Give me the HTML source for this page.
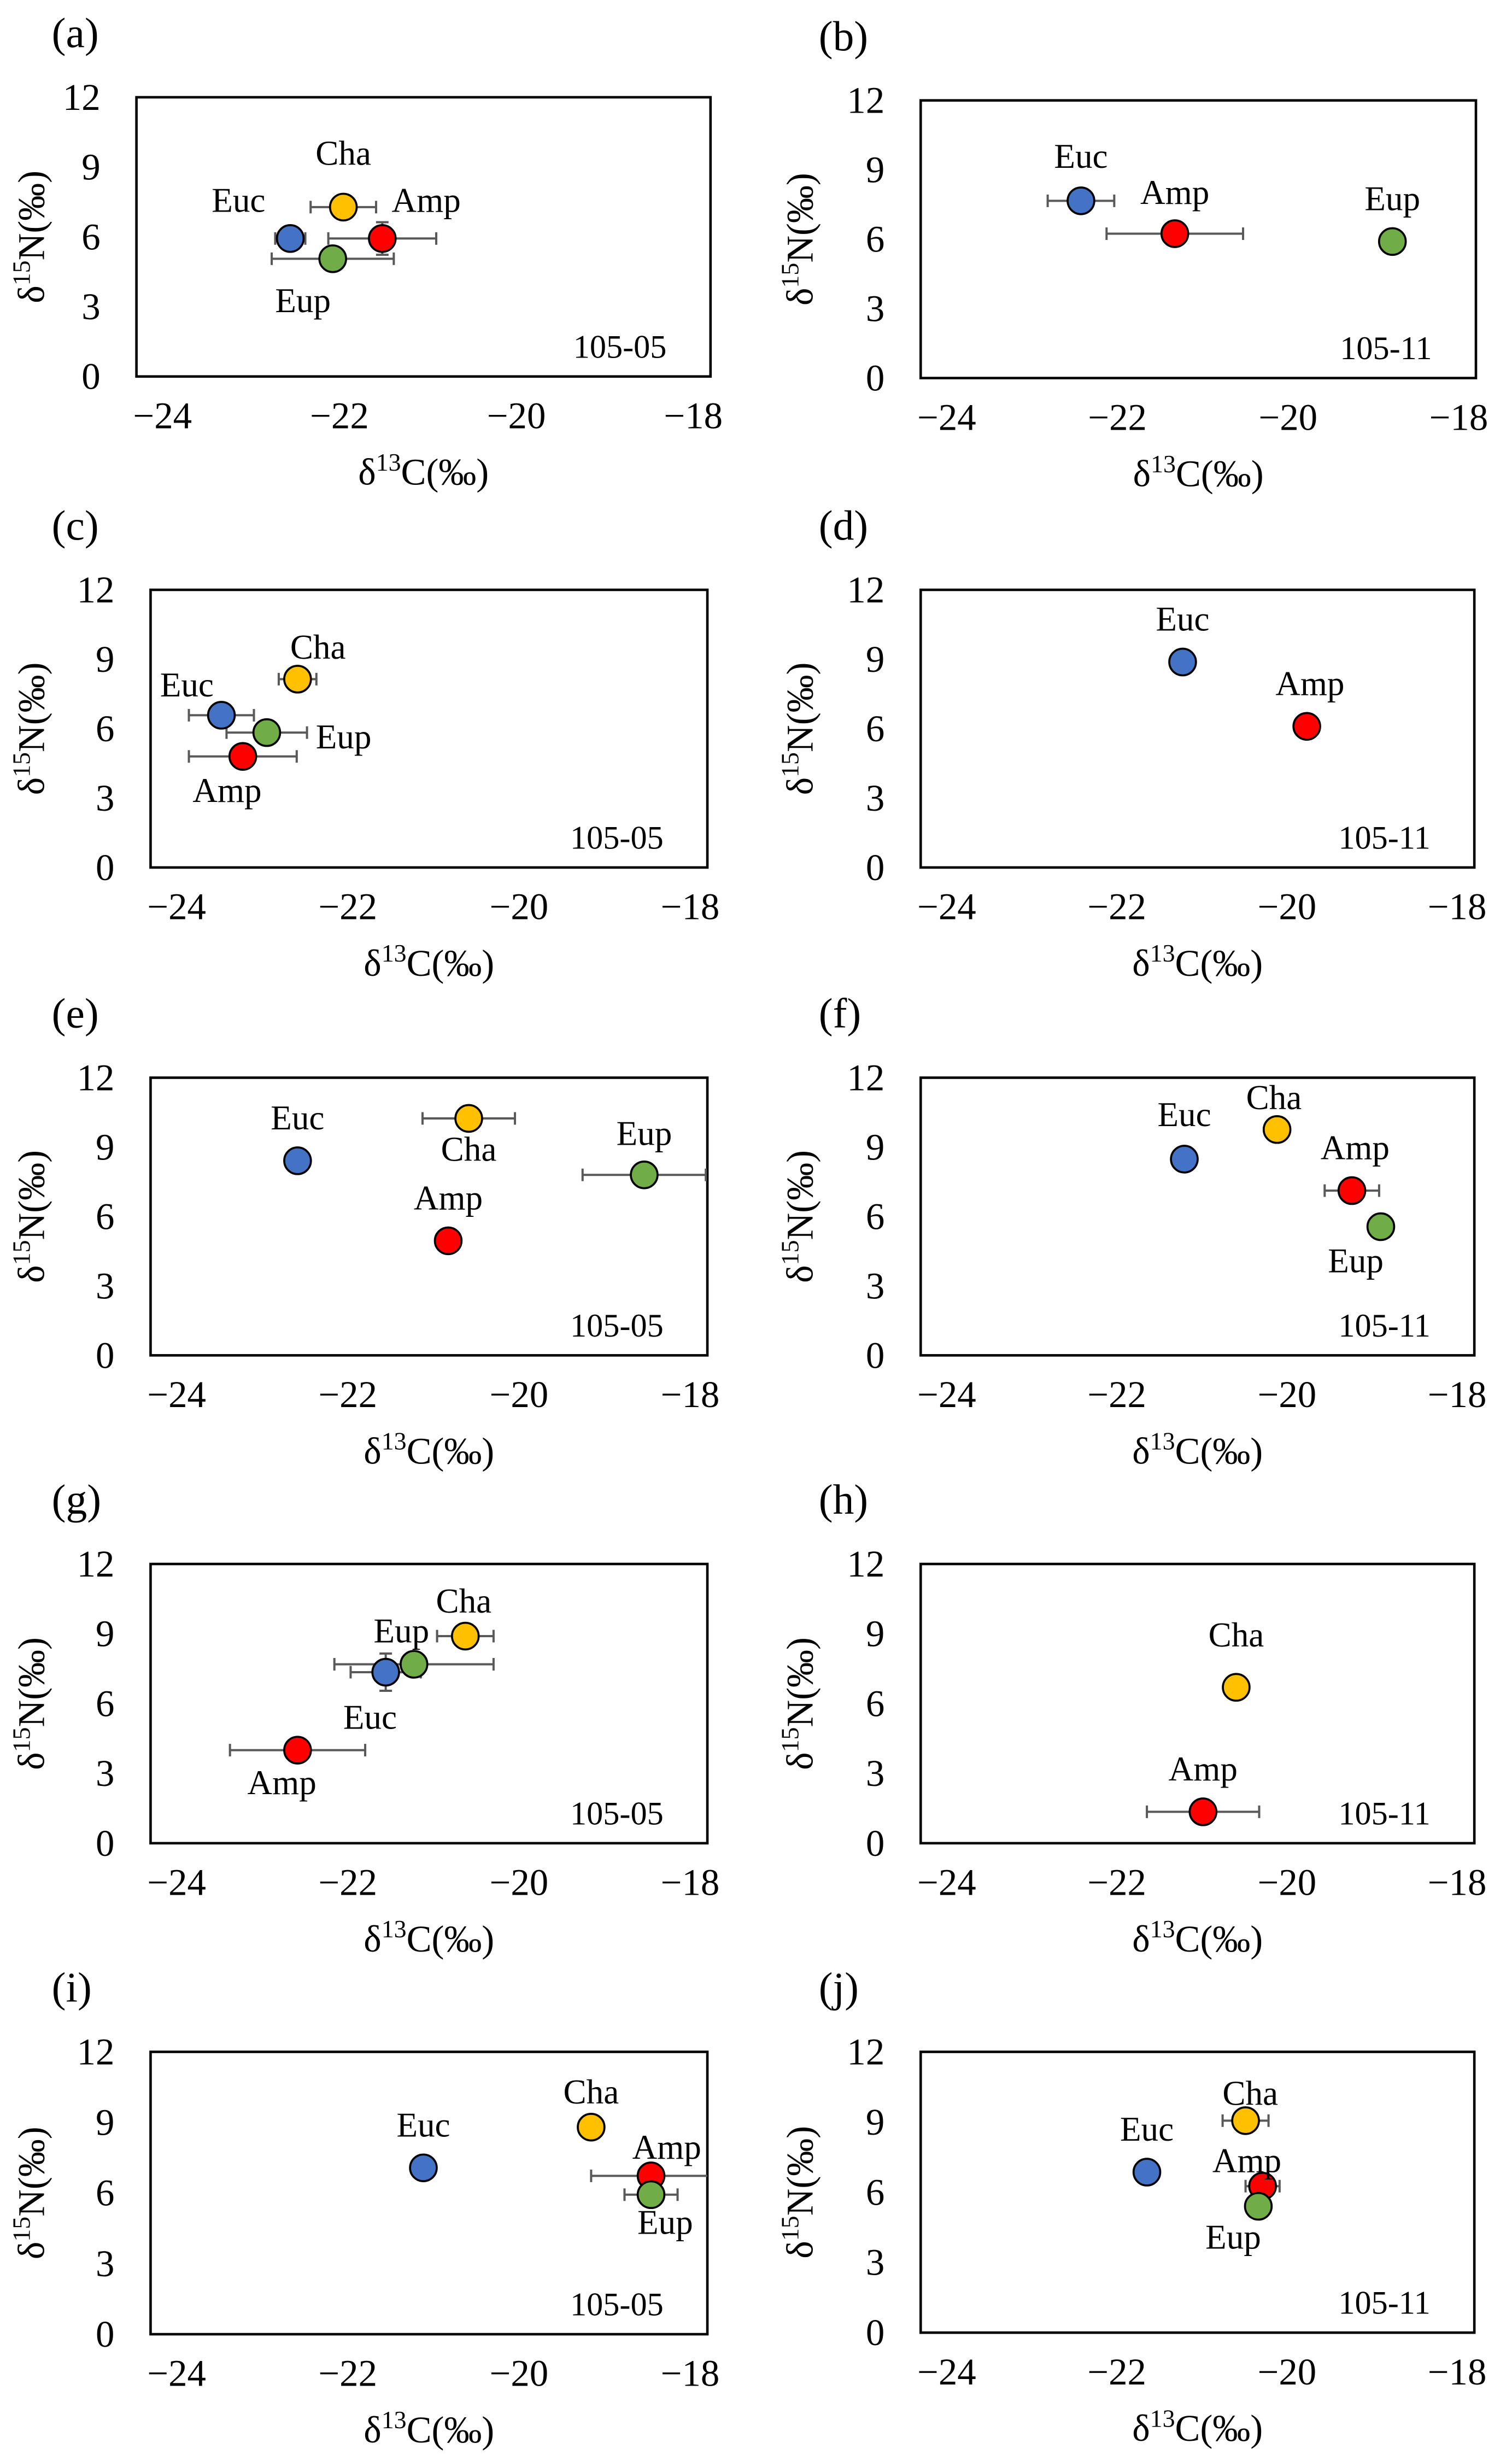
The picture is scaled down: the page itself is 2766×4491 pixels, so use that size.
<!DOCTYPE html>
<html><head><meta charset="utf-8">
<style>
html,body{margin:0;padding:0;background:#fff;}
svg{display:block;}
text{font-family:"Liberation Serif","Times New Roman",serif;fill:#000;}
</style></head>
<body>
<svg id="fig" width="2766" height="4491" viewBox="0 0 964 1565" preserveAspectRatio="none" xmlns="http://www.w3.org/2000/svg"></svg>
<script>
// ---- data ----
const panelLetters = ["(a)","(b)","(c)","(d)","(e)","(f)","(g)","(h)","(i)","(j)"];
const panelSites = ["105-05","105-11","105-05","105-11","105-05","105-11","105-05","105-11","105-05","105-11"];
const xTicks = [-24,-22,-20,-18];
const yTicks = [0,3,6,9,12];
const xTickLabels = ["\u221224","\u221222","\u221220","\u221218"];
const yTickLabels = ["0","3","6","9","12"];
const seriesNames = [
 ["Euc","Cha","Amp","Eup"],["Euc","Amp","Eup"],["Euc","Cha","Eup","Amp"],["Euc","Amp"],
 ["Euc","Cha","Eup","Amp"],["Euc","Cha","Amp","Eup"],["Cha","Eup","Euc","Amp"],["Cha","Amp"],
 ["Euc","Cha","Amp","Eup"],["Euc","Cha","Amp","Eup"]];
const d13C = [
 [-22.52,-21.92,-21.48,-22.04],[-22.39,-21.29,-18.74],[-23.44,-22.55,-22.91,-23.19],[-21.19,-19.73],
 [-22.55,-20.55,-18.5,-20.79],[-21.17,-20.08,-19.2,-18.86],[-20.59,-21.19,-21.52,-22.55],[-20.56,-20.95],
 [-21.08,-19.12,-18.42,-18.42],[-21.61,-20.45,-20.25,-20.3]];
const d15N = [
 [5.93,7.28,5.93,5.06],[7.66,6.24,5.9],[6.58,8.14,5.83,4.8],[8.88,6.1],
 [8.41,10.24,7.8,4.95],[8.48,9.76,7.12,5.56],[8.9,7.69,7.35,4.0],[6.7,1.35],
 [7.07,8.8,6.73,5.93],[6.86,9.06,6.26,5.4]];
const d13CErr = [
 [0.17,0.37,0.61,0.69],[0.39,0.8,0],[0.38,0.22,0.47,0.63],[0.13,0],
 [0,0.54,0.72,0],[0.1,0,0.32,0],[0.33,0.93,0.41,0.79],[0,0.66],
 [0,0,0.7,0.31],[0,0.27,0.2,0]];
const d15NErr = [
 [0,0,0.7,0],[0,0,0],[0,0,0,0],[0,0],
 [0,0.5,0,0],[0,0,0.5,0],[0,0,0.8,0],[0,0.5],
 [0.35,0,0,0],[0.2,0,0,0.3]];
// label offsets in px relative to point (layout, not data)
const labelDx = [
 [-33,0,28,-19],[0,0,0],[-22,13,49,-10],[0,2],
 [0,0,0,0],[0,-2,2,-16],[-1,-8,-10,-10],[0,0],
 [0,0,10,9],[0,3,-10,-16]];
const labelDy = [
 [-24,-34,-24,27],[-28,-26,-27],[-19,-20,3,22],[-27,-27],
 [-27,20,-26,-27],[-28,-20,-27,22],[-22,-21,29,21],[-33,-27],
 [-27,-22,-18,18],[-27,-17,-16,20]];
const colors = {Euc:"#4472C4",Cha:"#FFC000",Amp:"#FF0000",Eup:"#70AD47"};
// layout
const boxes = [[87,62,453,240],[587,64,941,241],[96,376,451,553],[587,376,940,553],[96,687,451,864],[587,687,940,864],[96,997,451,1175],[587,997,940,1175],[96,1308,451,1488],[587,1308,940,1487]];

const NS="http://www.w3.org/2000/svg";
const svg=document.getElementById('fig');
function mk(tag,attrs,parent,txt){const e=document.createElementNS(NS,tag);for(const k in attrs)e.setAttribute(k,attrs[k]);if(txt!==undefined)e.textContent=txt;(parent||svg).appendChild(e);return e;}

boxes.forEach((b,p)=>{
 const [x0,y0,x1,y1]=b;
 const g=mk('g',{});
 
 
 const L=x0+14.6, R=x1-13;
 const sx=v=>L+(v-(-24))*(R-L)/6;
 const sy=v=>y1-(v/12)*(y1-y0);
 const cid='clip'+p;
 const cp=mk('clipPath',{id:cid},g); mk('rect',{x:x0,y:y0,width:x1-x0,height:y1-y0},cp);
 const lx = (x0<300)?33:522;
 let t=mk('text',{x:lx,y:y0-32,'font-size':27},g,panelLetters[p]);
 
 
 let r=mk('rect',{x:x0,y:y0,width:x1-x0,height:y1-y0,fill:'none',stroke:'#000','stroke-width':1.6},g);
 
 
 xTicks.forEach((v,i)=>{const e=mk('text',{x:sx(v)+2,y:y1+33,'font-size':24,'text-anchor':'middle'},g,xTickLabels[i]);
  
  });
 yTicks.forEach((v,i)=>{const e=mk('text',{x:x0-23,y:sy(v)+8,'font-size':24,'text-anchor':'end'},g,yTickLabels[i]);
  
  });
 const cx=(x0+x1)/2;
 const xt=mk('text',{x:cx,y:y1+69,'font-size':24,'text-anchor':'middle'},g);
 
 
 mk('tspan',{},xt,'\u03b4');mk('tspan',{'font-size':16,dy:-9},xt,'13');mk('tspan',{dy:9},xt,'C(\u2030)');
 const cy=(y0+y1)/2;
 const ytx = (x0<300)?20:510;
 const yt=mk('text',{x:0,y:0,'font-size':24,'text-anchor':'middle',transform:`translate(${ytx+8},${cy}) rotate(-90)`},g);
 
 
 mk('tspan',{},yt,'\u03b4');mk('tspan',{'font-size':16,dy:-9},yt,'15');mk('tspan',{dy:9},yt,'N(\u2030)');
 const st=mk('text',{x:x1-28,y:y1-12,'font-size':21,'text-anchor':'end'},g,panelSites[p]);
 
 
 const cg=mk('g',{'clip-path':`url(#${cid})`},g);
 seriesNames[p].forEach((n,i)=>{
  const px=sx(d13C[p][i]), py=sy(d15N[p][i]);
  const ex=d13CErr[p][i]*(R-L)/6, ey=d15NErr[p][i]*(y1-y0)/12;
  const eg=mk('g',{stroke:'#595959','stroke-width':1.4,fill:'none'},cg);
  
  
  if(ex>0){mk('line',{x1:px-ex,y1:py,x2:px+ex,y2:py},eg);mk('line',{x1:px-ex,y1:py-4,x2:px-ex,y2:py+4},eg);mk('line',{x1:px+ex,y1:py-4,x2:px+ex,y2:py+4},eg);}
  if(ey>0){mk('line',{x1:px,y1:py-ey,x2:px,y2:py+ey},eg);mk('line',{x1:px-4,y1:py-ey,x2:px+4,y2:py-ey},eg);mk('line',{x1:px-4,y1:py+ey,x2:px+4,y2:py+ey},eg);}
 });
 seriesNames[p].forEach((n,i)=>{
  const px=sx(d13C[p][i]), py=sy(d15N[p][i]);
  const c=mk('circle',{cx:px,cy:py,r:8.5,fill:colors[n],stroke:'#000','stroke-width':1.3},g);
  
  
  const l=mk('text',{x:px+labelDx[p][i],y:py+labelDy[p][i]+7,'font-size':22,'text-anchor':'middle'},g,n);
  
  
 });
});
</script>
</body></html>
